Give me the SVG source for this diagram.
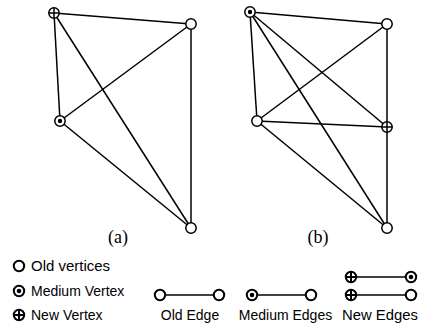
<svg xmlns="http://www.w3.org/2000/svg" width="422" height="329" viewBox="0 0 422 329">
<defs>
<style>
.e{stroke:#000;stroke-width:1.5;fill:none}
.v{fill:#fff;stroke:#000;stroke-width:1.5}
.lv{fill:#fff;stroke:#000;stroke-width:2}
.d{fill:#000}
.x{stroke:#000;stroke-width:1.5}
.lx{stroke:#000;stroke-width:2}
.lab{font-family:"Liberation Serif",serif;font-size:18px;fill:#000;text-anchor:middle}
.lt{font-family:"Liberation Sans",Arial,sans-serif;font-size:14px;fill:#000}
.m{text-anchor:middle}
</style>
<g id="old"><circle r="5.2" class="v"/></g>
<g id="med"><circle r="5.2" class="v"/><circle r="2.2" class="d"/></g>
<g id="new"><circle r="5.2" class="v"/><path d="M-5.2 0H5.2M0 -5.2V5.2" class="x"/></g>
<g id="lold"><circle r="5.2" class="lv"/></g>
<g id="lmed"><circle r="5.2" class="lv"/><circle r="2.3" class="d"/></g>
<g id="lnew"><circle r="5.2" class="lv"/><path d="M-5.2 0H5.2M0 -5.2V5.2" class="lx"/></g>
</defs>
<rect width="422" height="329" fill="#fff"/>
<g id="connectors">
<line class="e" x1="54" y1="13" x2="191" y2="24"/>
<line class="e" x1="54" y1="13" x2="60" y2="121"/>
<line class="e" x1="54" y1="13" x2="191" y2="228"/>
<line class="e" x1="191" y1="24" x2="60" y2="121"/>
<line class="e" x1="191" y1="24" x2="191" y2="228"/>
<line class="e" x1="60" y1="121" x2="191" y2="228"/>
<line class="e" x1="250" y1="12" x2="387" y2="24"/>
<line class="e" x1="250" y1="12" x2="257" y2="121"/>
<line class="e" x1="250" y1="12" x2="387" y2="127"/>
<line class="e" x1="250" y1="12" x2="387" y2="228"/>
<line class="e" x1="387" y1="24" x2="257" y2="121"/>
<line class="e" x1="387" y1="24" x2="387" y2="228"/>
<line class="e" x1="257" y1="121" x2="387" y2="127"/>
<line class="e" x1="257" y1="121" x2="387" y2="228"/>
<line class="e" x1="160" y1="295" x2="219" y2="295"/>
<line class="e" x1="252" y1="295" x2="311" y2="295"/>
<line class="e" x1="351" y1="277" x2="411" y2="277"/>
<line class="e" x1="351" y1="295" x2="411" y2="295"/>
</g>
<g id="a-new"><use href="#new" x="54" y="13"/></g>
<g id="a-old-tr"><use href="#old" x="191" y="24"/></g>
<g id="a-med"><use href="#med" x="60" y="121"/></g>
<g id="a-old-b"><use href="#old" x="191" y="228"/></g>
<g id="b-med"><use href="#med" x="250" y="12"/></g>
<g id="b-old-tr"><use href="#old" x="387" y="24"/></g>
<g id="b-old-l"><use href="#old" x="257" y="121"/></g>
<g id="b-new"><use href="#new" x="387" y="127"/></g>
<g id="b-old-b"><use href="#old" x="387" y="228"/></g>
<text class="lab" x="118" y="243">(a)</text>
<text class="lab" x="318" y="243">(b)</text>
<g id="legend">
<use href="#lold" x="19" y="266"/>
<text class="lt" x="31" y="271" textLength="79" lengthAdjust="spacingAndGlyphs">Old vertices</text>
<use href="#lmed" x="19" y="291"/>
<text class="lt" x="31" y="296">Medium Vertex</text>
<use href="#lnew" x="19" y="315"/>
<text class="lt" x="31" y="320">New Vertex</text>
<use href="#lold" x="160" y="295"/>
<use href="#lold" x="219" y="295"/>
<text class="lt m" x="190" y="320">Old Edge</text>
<use href="#lmed" x="252" y="295"/>
<use href="#lold" x="311" y="295"/>
<text class="lt m" x="285.5" y="320">Medium Edges</text>
<use href="#lnew" x="351" y="277"/>
<use href="#lmed" x="411" y="277"/>
<use href="#lnew" x="351" y="295"/>
<use href="#lold" x="411" y="295"/>
<text class="lt m" x="380" y="320" textLength="76" lengthAdjust="spacingAndGlyphs">New Edges</text>
</g>
</svg>
